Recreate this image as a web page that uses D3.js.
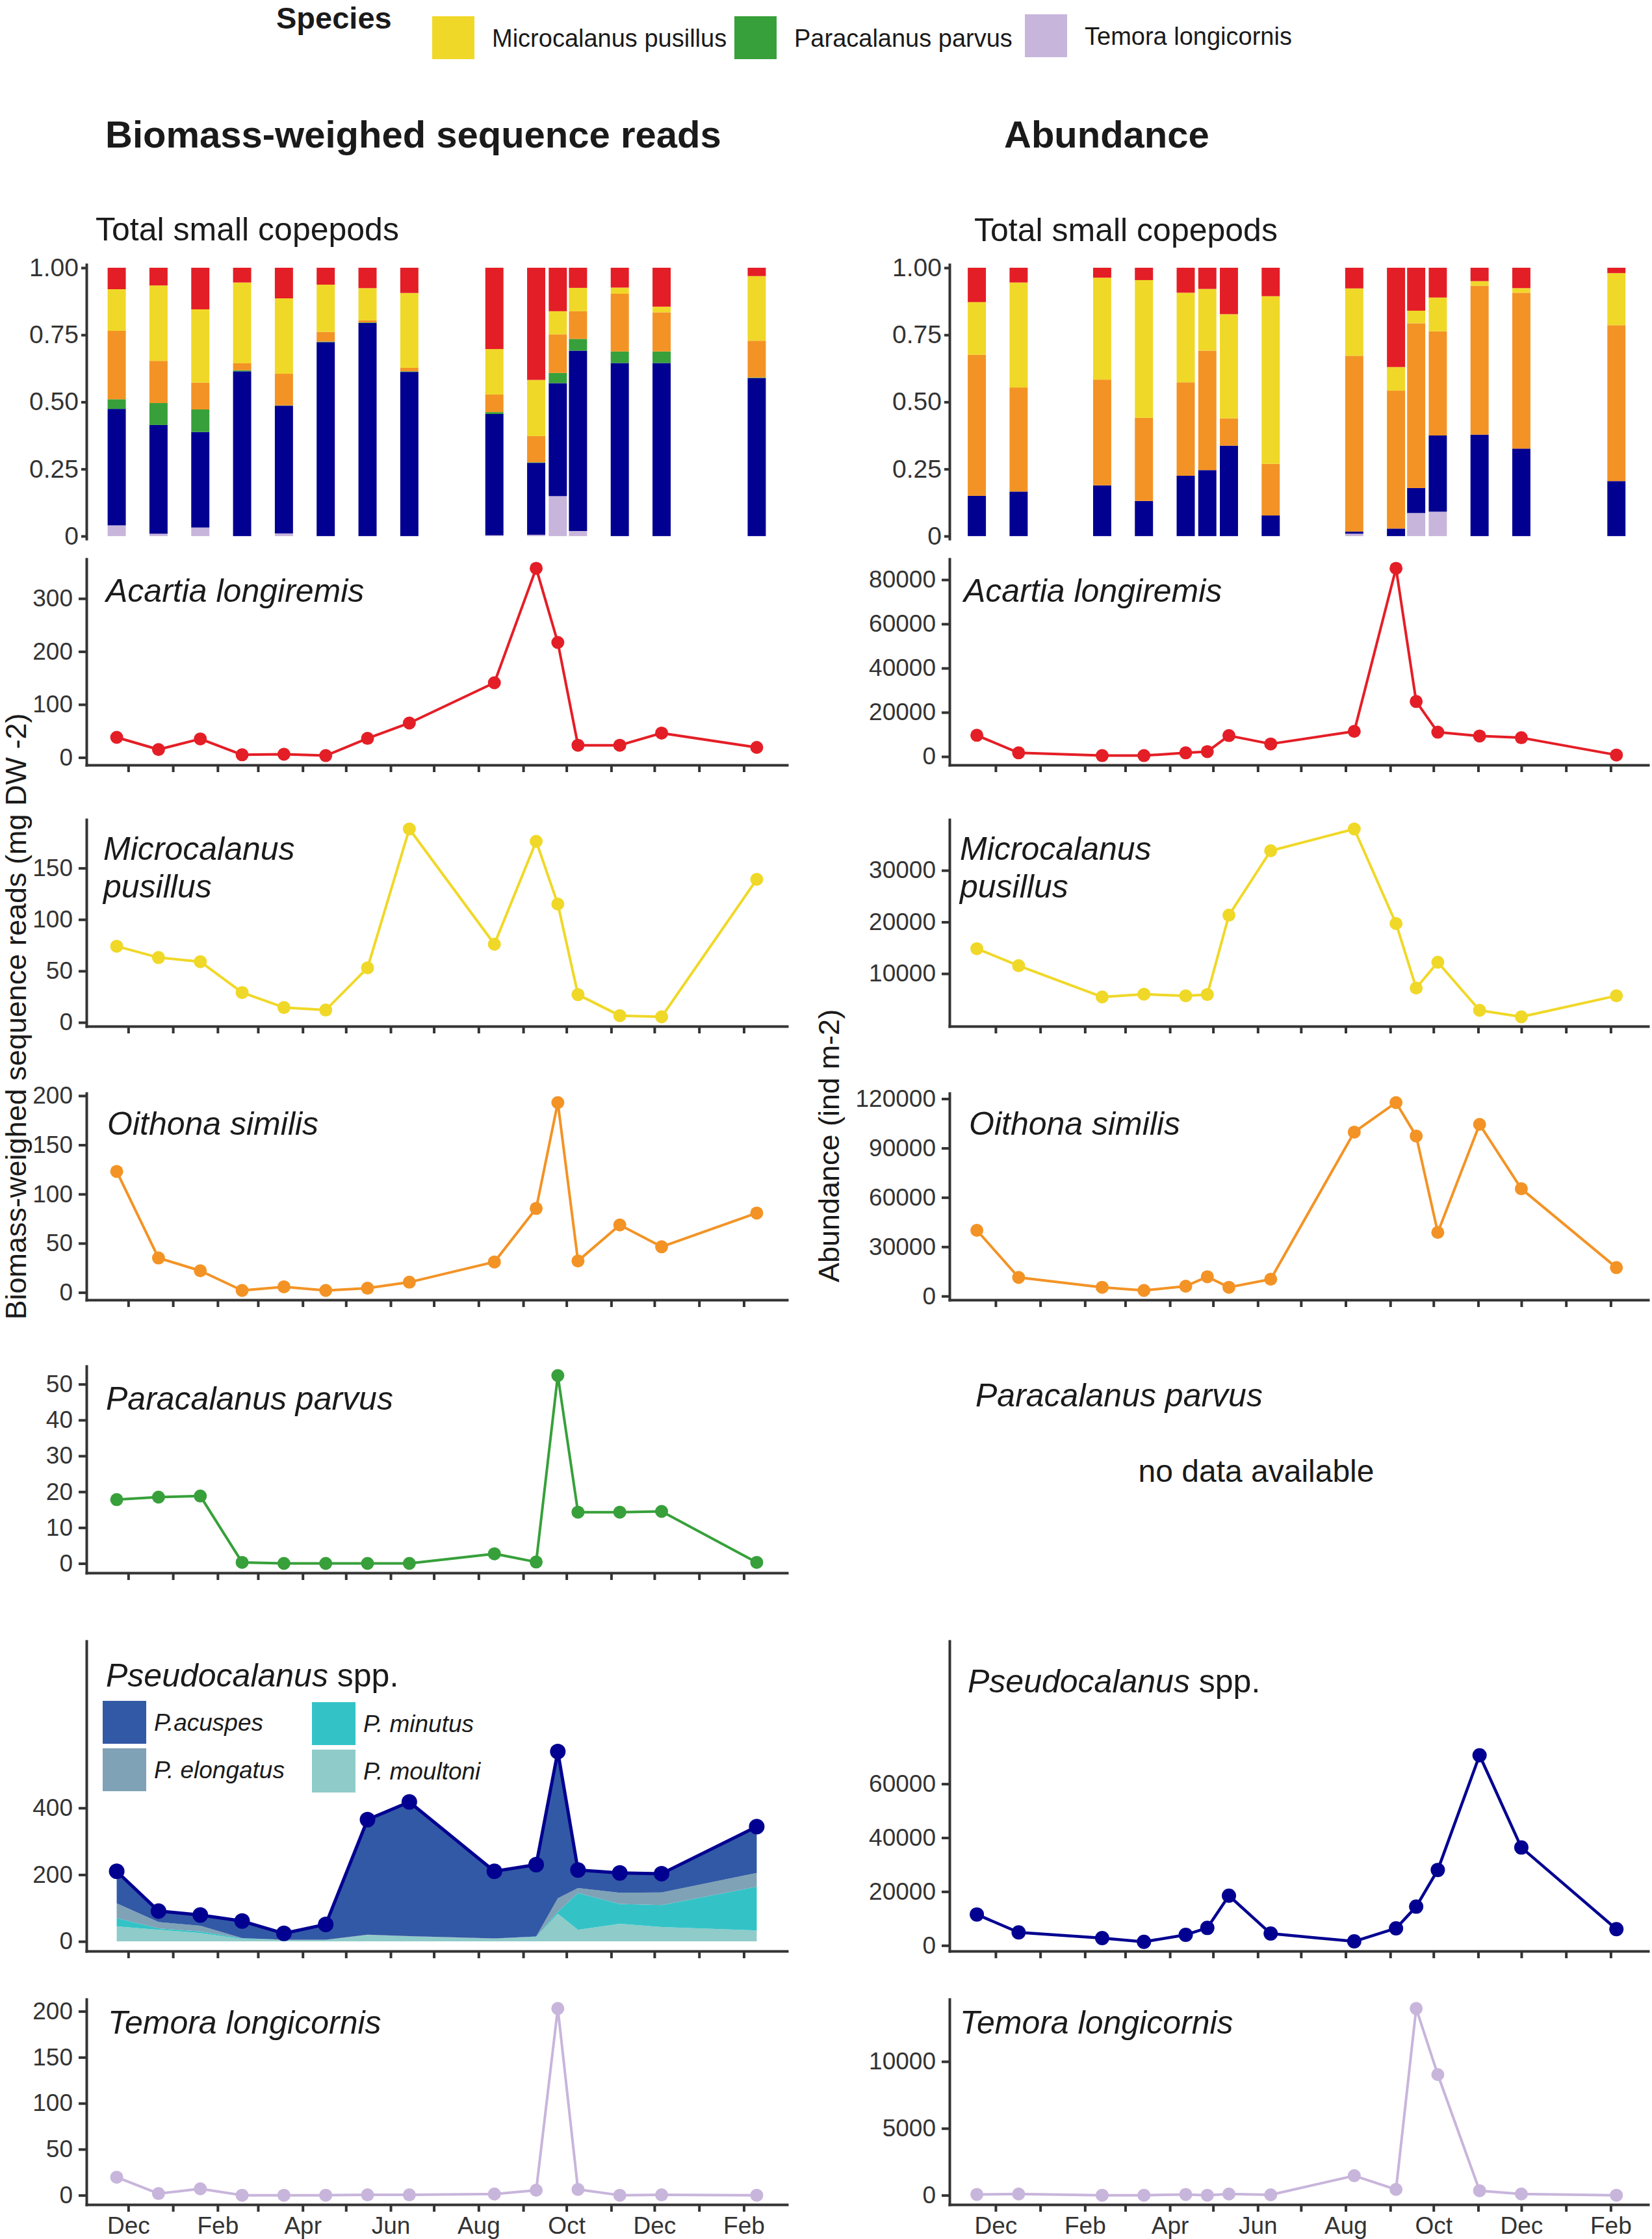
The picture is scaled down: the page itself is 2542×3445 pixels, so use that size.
<!DOCTYPE html>
<html>
<head>
<meta charset="utf-8">
<script src="https://cdn.jsdelivr.net/npm/d3@7"></script>
<style>
  body { margin: 0; background: #fff; }
  text { font-family: "Liberation Sans", Arial, sans-serif; }
</style>
</head>
<body>
<svg id="chart" width="2542" height="3445"></svg>
<script>
// sampling dates (biomass-weighed reads on the left, abundance on the right)
const leftDates = ["2016-11-23","2016-12-22","2017-01-20","2017-02-18","2017-03-19","2017-04-17","2017-05-16","2017-06-14","2017-08-12","2017-09-10","2017-09-25","2017-10-09","2017-11-07","2017-12-06","2018-02-10"];
const rightDates = ["2016-11-18","2016-12-17","2017-02-13","2017-03-14","2017-04-12","2017-04-27","2017-05-12","2017-06-10","2017-08-07","2017-09-05","2017-09-19","2017-10-04","2017-11-02","2017-12-01","2018-02-05"];

// relative composition, total small copepods (bottom -> top)
const speciesKeys = ["Temora", "Pseudocalanus", "Paracalanus", "Oithona", "Microcalanus", "Acartia"];
const shareTemoraBio  = [0.040,0.009,0.032,0.000,0.010,0.000,0.000,0.000,0.003,0.005,0.149,0.019,0.000,0.000,0.000];
const sharePseudoBio  = [0.434,0.405,0.356,0.614,0.476,0.723,0.794,0.612,0.452,0.268,0.421,0.672,0.645,0.645,0.589];
const shareParaBio    = [0.036,0.082,0.084,0.004,0.001,0.002,0.002,0.002,0.007,0.002,0.038,0.044,0.043,0.043,0.002];
const shareOithonaBio = [0.255,0.157,0.100,0.026,0.118,0.036,0.008,0.013,0.066,0.098,0.144,0.103,0.215,0.146,0.137];
const shareMicroBio   = [0.155,0.281,0.273,0.301,0.281,0.176,0.120,0.279,0.169,0.209,0.086,0.087,0.023,0.021,0.241];
const shareAcartiaBio = [0.080,0.066,0.155,0.055,0.114,0.063,0.076,0.094,0.303,0.418,0.162,0.075,0.074,0.145,0.031];

const shareTemoraAbu  = [0.000,0.000,0.000,0.000,0.000,0.000,0.000,0.000,0.009,0.000,0.086,0.091,0.000,0.000,0.000];
const sharePseudoAbu  = [0.150,0.166,0.189,0.131,0.225,0.246,0.337,0.077,0.008,0.028,0.093,0.284,0.378,0.326,0.205];
const shareOithonaAbu = [0.526,0.388,0.394,0.310,0.348,0.445,0.102,0.192,0.655,0.514,0.614,0.388,0.555,0.581,0.581];
const shareMicroAbu   = [0.196,0.391,0.380,0.513,0.334,0.230,0.388,0.625,0.251,0.088,0.047,0.126,0.017,0.017,0.194];
const shareAcartiaAbu = [0.128,0.055,0.037,0.046,0.093,0.079,0.173,0.106,0.077,0.370,0.160,0.111,0.050,0.076,0.020];

// biomass-weighed sequence reads (mg DW m-2)
const acartiaBio = [38,15,35,5,6,3.5,36,65,141,357,217,23,23,46,19];
const microBio   = [74,63,59,29,14.5,12,53,188,76,176,115,27,6.6,5.4,139];
const oithonaBio = [123,35,22,2,5.7,2,4.3,10.4,31,85.4,193,32,68.6,46.4,80.7];
const paraBio    = [17.8,18.5,18.8,0.3,0,0,0,0,2.7,0.4,52.4,14.3,14.3,14.5,0.3];
const temoraBio  = [19.6,1.8,7,0,0,0,0.4,0.4,1.3,5.4,203,6.3,0,0.4,0];
// Pseudocalanus spp. split
const pseudoKeys = ["moultoni", "minutus", "elongatus", "acuspes"];
const acuspesBio   = [96,33,32,51,19,46,345,402,201,215,440,54,59,56,139];
const elongatusBio = [44,19,17,1,1,1,1,1,1,1,40,15,34,38,41];
const minutusBio   = [25,4,5,2,0,0,0,0,0,1,6,110,59,66,131];
const moultoniBio  = [45,35,25,7,4,4,19,15,8,13,83,35,53,43,33];

// abundance (ind m-2)
const acartiaAbu = [9600,1670,420,420,1670,2230,9460,5700,11400,85150,24900,11000,9300,8500,700];
const microAbu   = [14830,11530,5470,6000,5700,5950,21320,33800,38020,19700,7200,12200,2880,1620,5700];
const oithonaAbu = [40000,11340,5350,3420,5990,11760,5350,10270,99700,117650,97330,38720,104400,65240,17330];
const pseudoAbu  = [11500,4850,2730,1360,3940,6500,18480,4400,1500,6360,14400,28030,70600,36360,6060];
const temoraAbu  = [60,90,0,0,60,0,90,30,1460,430,13960,9020,340,90,0];

// tick values
const shareTicks = [0, 0.25, 0.5, 0.75, 1];
const shareTickLabels = ["0", "0.25", "0.50", "0.75", "1.00"];
const monthLabels = ["Dec", "Feb", "Apr", "Jun", "Aug", "Oct", "Dec", "Feb"];

const colors = {
  Acartia: "#E41E26", Microcalanus: "#F0D828", Oithona: "#F39325",
  Paracalanus: "#37A03A", Pseudocalanus: "#020090", Temora: "#C8B5DB"
};
const pseudoColors = { acuspes: "#3259A5", elongatus: "#7FA2B6", minutus: "#33C3C7", moultoni: "#8FCBC9" };

const parse = d3.timeParse("%Y-%m-%d");
const svg = d3.select("#chart");
svg.append("rect").attr("width", 2542).attr("height", 3445).attr("fill", "#fff");

const ink = "#333333";
const months = d3.timeMonth.range(new Date(2016, 11, 1), new Date(2018, 1, 2));

const sides = {
  left:  { x0: 133, x1: 1211, domain: [new Date(2016, 10, 2), new Date(2018, 2, 3)], dates: leftDates.map(parse) },
  right: { x0: 1461, x1: 2536, domain: [new Date(2016, 9, 30), new Date(2018, 1, 27)], dates: rightDates.map(parse) }
};
Object.values(sides).forEach(s => {
  s.x = d3.scaleTime().domain(s.domain).range([s.x0, s.x1]);
});

function styleAxis(g, fontSize) {
  g.select(".domain").attr("stroke", ink).attr("stroke-width", 4).attr("stroke-linecap", "square");
  g.selectAll(".tick line").attr("stroke", ink).attr("stroke-width", 4);
  g.selectAll(".tick text").attr("fill", ink).attr("font-size", fontSize)
    .attr("font-family", "'Liberation Sans', Arial, sans-serif");
}

function padDomain(vals) {
  const [lo, hi] = d3.extent(vals);
  const pad = (hi - lo) * 0.05;
  return [lo - pad, hi + pad];
}

function yAxis(side, y, ticks, opts = {}) {
  const ax = d3.axisLeft(y).tickValues(ticks).tickSize(opts.size || 12).tickPadding(opts.pad || 9).tickSizeOuter(0);
  if (opts.labels) ax.tickFormat((d, i) => opts.labels[i]);
  else ax.tickFormat(d3.format("d"));
  const g = svg.append("g").attr("transform", `translate(${side.x0},0)`).call(ax);
  styleAxis(g, opts.font || 37);
}

function xAxis(side, bottom, withLabels) {
  const ax = d3.axisBottom(side.x).tickValues(months).tickSize(11).tickPadding(8).tickSizeOuter(0)
    .tickFormat((d, i) => withLabels && i % 2 === 0 ? monthLabels[i / 2] : "");
  const g = svg.append("g").attr("transform", `translate(0,${bottom})`).call(ax);
  styleAxis(g, 37);
}

function title(x, y, parts) {
  const t = svg.append("text").attr("x", x).attr("y", y).attr("font-size", 50).attr("fill", "#1a1a1a");
  parts.forEach(p => t.append("tspan").attr("font-style", p.italic ? "italic" : "normal").text(p.text));
  return t;
}

// ---- stacked bars: total small copepods ----
function barPanel(side, rows, top, bottom) {
  const y = d3.scaleLinear().domain([-0.01, 1.012]).range([bottom, top]);
  const keys = speciesKeys.filter(k => rows[0][k] !== undefined);
  const stacked = d3.stack().keys(keys)(rows);
  const halfBar = 6.3 * 864e5;
  stacked.forEach(layer => {
    svg.append("g").attr("fill", colors[layer.key])
      .selectAll("rect").data(layer).join("rect")
      .attr("x", d => side.x(new Date(+d.data.date - halfBar)))
      .attr("width", d => side.x(new Date(+d.data.date + halfBar)) - side.x(new Date(+d.data.date - halfBar)))
      .attr("y", d => y(d[1]))
      .attr("height", d => Math.max(0, y(d[0]) - y(d[1])));
  });
  yAxis(side, y, shareTicks, { labels: shareTickLabels, size: 8, pad: 4, font: 39 });
}

const bioRows = sides.left.dates.map((date, i) => ({
  date, Temora: shareTemoraBio[i], Pseudocalanus: sharePseudoBio[i], Paracalanus: shareParaBio[i],
  Oithona: shareOithonaBio[i], Microcalanus: shareMicroBio[i], Acartia: shareAcartiaBio[i]
}));
const abuRows = sides.right.dates.map((date, i) => ({
  date, Temora: shareTemoraAbu[i], Pseudocalanus: sharePseudoAbu[i],
  Oithona: shareOithonaAbu[i], Microcalanus: shareMicroAbu[i], Acartia: shareAcartiaAbu[i]
}));

barPanel(sides.left, bioRows, 407, 829);
barPanel(sides.right, abuRows, 407, 829);
svg.append("text").attr("x", 147).attr("y", 370).attr("font-size", 50).attr("fill", "#1a1a1a").text("Total small copepods");
svg.append("text").attr("x", 1499).attr("y", 371).attr("font-size", 50).attr("fill", "#1a1a1a").text("Total small copepods");

// ---- line panels ----
function linePanel(side, values, color, top, bottom, ticks, opts = {}) {
  const y = d3.scaleLinear().domain(opts.domain || padDomain(values)).range([bottom, top]);
  const pts = side.dates.map((d, i) => [side.x(d), y(values[i])]);
  svg.append("path").attr("d", d3.line()(pts)).attr("fill", "none")
    .attr("stroke", color).attr("stroke-width", opts.lw || 4).attr("stroke-linejoin", "round");
  svg.append("g").attr("fill", color).selectAll("circle").data(pts).join("circle")
    .attr("cx", d => d[0]).attr("cy", d => d[1]).attr("r", opts.r || 10);
  yAxis(side, y, ticks);
  xAxis(side, bottom, opts.labels);
  return y;
}

const L = sides.left, R = sides.right;

// Acartia
linePanel(L, acartiaBio, colors.Acartia, 860, 1177, [0, 100, 200, 300]);
linePanel(R, acartiaAbu, colors.Acartia, 860, 1177, [0, 20000, 40000, 60000, 80000]);
title(163, 926, [{ text: "Acartia longiremis", italic: true }]);
title(1483, 926, [{ text: "Acartia longiremis", italic: true }]);

// Microcalanus
linePanel(L, microBio, colors.Microcalanus, 1261, 1579, [0, 50, 100, 150]);
linePanel(R, microAbu, colors.Microcalanus, 1261, 1579, [10000, 20000, 30000]);
title(159, 1323, [{ text: "Microcalanus", italic: true }]);
title(159, 1381, [{ text: "pusillus", italic: true }]);
title(1477, 1323, [{ text: "Microcalanus", italic: true }]);
title(1477, 1381, [{ text: "pusillus", italic: true }]);

// Oithona
linePanel(L, oithonaBio, colors.Oithona, 1682, 2000, [0, 50, 100, 150, 200]);
linePanel(R, oithonaAbu, colors.Oithona, 1682, 2000, [0, 30000, 60000, 90000, 120000]);
title(165, 1746, [{ text: "Oithona similis", italic: true }]);
title(1491, 1746, [{ text: "Oithona similis", italic: true }]);

// Paracalanus
linePanel(L, paraBio, colors.Paracalanus, 2102, 2420, [0, 10, 20, 30, 40, 50]);
title(163, 2169, [{ text: "Paracalanus parvus", italic: true }]);
title(1501, 2164, [{ text: "Paracalanus parvus", italic: true }]);
svg.append("text").attr("x", 1933).attr("y", 2280).attr("text-anchor", "middle")
  .attr("font-size", 48).attr("fill", "#1a1a1a").text("no data available");

// Pseudocalanus: stacked areas by species (left) + total line
const pseudoRows = L.dates.map((date, i) => ({
  date, acuspes: acuspesBio[i], elongatus: elongatusBio[i], minutus: minutusBio[i], moultoni: moultoniBio[i]
}));
const pseudoTotal = pseudoRows.map(r => r.acuspes + r.elongatus + r.minutus + r.moultoni);
const yPse = d3.scaleLinear().domain([-29, 900]).range([3002, 2525]);
const pseStack = d3.stack().keys(pseudoKeys)(pseudoRows);
const area = d3.area().x(d => L.x(d.data.date)).y0(d => yPse(d[0])).y1(d => yPse(d[1]));
svg.append("g").selectAll("path").data(pseStack).join("path")
  .attr("d", area).attr("fill", d => pseudoColors[d.key]);
linePanel(L, pseudoTotal, colors.Pseudocalanus, 2525, 3002, [0, 200, 400], { domain: yPse.domain(), r: 12, lw: 5 });
linePanel(R, pseudoAbu, colors.Pseudocalanus, 2525, 3002, [0, 20000, 40000, 60000], { domain: [-2100, 113000], r: 11, lw: 4.5 });
title(163, 2595, [{ text: "Pseudocalanus", italic: true }, { text: " spp.", italic: false }]);
title(1489, 2604, [{ text: "Pseudocalanus", italic: true }, { text: " spp.", italic: false }]);

// Pseudocalanus legend
const pseLegend = [
  { key: "acuspes", label: "P.acuspes", x: 158, y: 2617 },
  { key: "elongatus", label: "P. elongatus", x: 158, y: 2690 },
  { key: "minutus", label: "P. minutus", x: 480, y: 2619 },
  { key: "moultoni", label: "P. moultoni", x: 480, y: 2692 }
];
const pl = svg.append("g").selectAll("g").data(pseLegend).join("g")
  .attr("transform", d => `translate(${d.x},${d.y})`);
pl.append("rect").attr("width", 67).attr("height", 66).attr("fill", d => pseudoColors[d.key]);
pl.append("text").attr("x", 79).attr("y", 46).attr("font-size", 37).attr("font-style", "italic")
  .attr("fill", "#1a1a1a").text(d => d.label);

// Temora
linePanel(L, temoraBio, colors.Temora, 3076, 3392, [0, 50, 100, 150, 200], { labels: true });
linePanel(R, temoraAbu, colors.Temora, 3076, 3392, [0, 5000, 10000], { labels: true });
title(166, 3129, [{ text: "Temora longicornis", italic: true }]);
title(1477, 3129, [{ text: "Temora longicornis", italic: true }]);

// axis titles
svg.append("text").attr("transform", "translate(40,1564) rotate(-90)").attr("text-anchor", "middle")
  .attr("font-size", 45).attr("fill", "#1a1a1a").text("Biomass-weighed sequence reads (mg DW -2)");
svg.append("text").attr("transform", "translate(1291,1763) rotate(-90)").attr("text-anchor", "middle")
  .attr("font-size", 45).attr("fill", "#1a1a1a").text("Abundance (ind m-2)");

// column headers
svg.append("text").attr("x", 162).attr("y", 227).attr("font-size", 58).attr("font-weight", "bold")
  .attr("fill", "#1a1a1a").text("Biomass-weighed sequence reads");
svg.append("text").attr("x", 1545).attr("y", 227).attr("font-size", 58).attr("font-weight", "bold")
  .attr("fill", "#1a1a1a").text("Abundance");

// species legend (top)
svg.append("text").attr("x", 425).attr("y", 44).attr("font-size", 47).attr("font-weight", "bold")
  .attr("fill", "#1a1a1a").text("Species");
const topLegend = [
  { key: "Microcalanus", label: "Microcalanus pusillus", x: 665, y: 25 },
  { key: "Paracalanus", label: "Paracalanus parvus", x: 1130, y: 25 },
  { key: "Temora", label: "Temora longicornis", x: 1577, y: 22 }
];
const tl = svg.append("g").selectAll("g").data(topLegend).join("g")
  .attr("transform", d => `translate(${d.x},${d.y})`);
tl.append("rect").attr("width", 65).attr("height", 66).attr("fill", d => colors[d.key]);
tl.append("text").attr("x", 92).attr("y", 47).attr("font-size", 38).attr("fill", "#1a1a1a").text(d => d.label);
</script>
</body>
</html>
